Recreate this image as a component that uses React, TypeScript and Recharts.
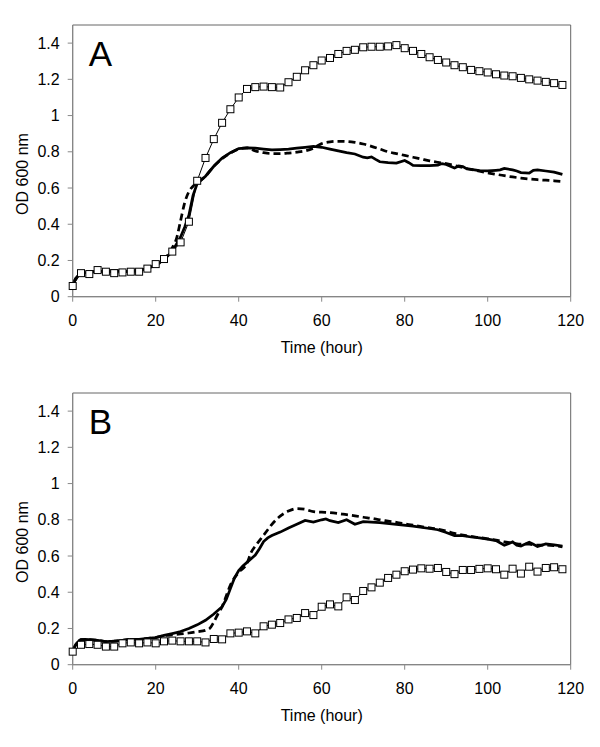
import React from "react";
import {
  LineChart,
  Line,
  XAxis,
  YAxis,
  ReferenceArea,
} from "recharts";

const FONT = "'Liberation Sans', Arial, sans-serif";

// sampling hours of the open-square series (every 2 h)
const SQ_HOURS = [
  0, 2, 4, 6, 8, 10, 12, 14, 16, 18, 20, 22, 24, 26, 28, 30, 32, 34, 36, 38,
  40, 42, 44, 46, 48, 50, 52, 54, 56, 58, 60, 62, 64, 66, 68, 70, 72, 74, 76, 78,
  80, 82, 84, 86, 88, 90, 92, 94, 96, 98, 100, 102, 104, 106, 108, 110, 112, 114, 116, 118,
];

// ---- panel A ----
const A_SQUARES = [
  0.059, 0.13, 0.125, 0.147, 0.138, 0.13, 0.134, 0.138, 0.138, 0.155,
  0.18, 0.208, 0.249, 0.3, 0.414, 0.64, 0.766, 0.87, 0.96, 1.035,
  1.1, 1.147, 1.157, 1.16, 1.157, 1.155, 1.184, 1.214, 1.25, 1.278,
  1.304, 1.318, 1.34, 1.357, 1.363, 1.377, 1.38, 1.38, 1.382, 1.389,
  1.372, 1.357, 1.34, 1.322, 1.307, 1.293, 1.278, 1.267, 1.252, 1.245,
  1.238, 1.228, 1.221, 1.217, 1.208, 1.2, 1.193, 1.186, 1.179, 1.169,
];

const A_SOLID_HOURS = [
  0, 1, 2, 4, 6, 8, 10, 12, 14, 16, 18, 20, 22, 24, 25, 26, 27, 28, 29, 30,
  31, 32, 34, 36, 38, 40, 42, 44, 46, 48, 50, 52, 54, 56, 58, 60, 62, 64, 66, 68,
  70, 71, 72, 73, 74, 76, 78, 80, 81, 82, 84, 86, 88, 89, 90, 91, 92, 93, 94, 95,
  96, 98, 100, 102, 103, 104, 106, 107, 108, 110, 111, 112, 114, 116, 118,
];
const A_SOLID = [
  0.07, 0.11, 0.13, 0.135, 0.14, 0.14, 0.145, 0.14, 0.14, 0.145, 0.155, 0.175, 0.205, 0.25, 0.29, 0.33, 0.385, 0.45, 0.56, 0.625,
  0.645, 0.665, 0.72, 0.765, 0.795, 0.818, 0.822, 0.82, 0.815, 0.81, 0.812, 0.815, 0.82, 0.825, 0.83, 0.825, 0.815, 0.805, 0.795, 0.788,
  0.77, 0.766, 0.772, 0.758, 0.745, 0.74, 0.738, 0.752, 0.74, 0.725, 0.724, 0.724, 0.726, 0.735, 0.73, 0.72, 0.71, 0.722, 0.718, 0.705,
  0.703, 0.696, 0.694, 0.698, 0.7, 0.708, 0.7, 0.694, 0.685, 0.682, 0.698, 0.7, 0.694, 0.688, 0.675,
];

const A_DASH_HOURS = [
  0, 1, 2, 4, 6, 8, 10, 12, 14, 16, 18, 20, 22, 24, 25, 26, 27, 28, 29, 30,
  32, 34, 36, 38, 40, 42, 44, 46, 48, 50, 52, 54, 56, 58, 60, 62, 64, 66, 68, 70,
  72, 74, 76, 78, 80, 82, 84, 86, 88, 90, 92, 94, 96, 98, 100, 102, 104, 106, 108, 110,
  112, 114, 116, 118,
];
const A_DASH = [
  0.07, 0.11, 0.13, 0.135, 0.14, 0.14, 0.145, 0.14, 0.14, 0.145, 0.155, 0.175, 0.205, 0.27, 0.32, 0.42, 0.52, 0.58, 0.61, 0.63,
  0.665, 0.72, 0.762, 0.793, 0.815, 0.822, 0.805, 0.795, 0.79, 0.79, 0.793, 0.798, 0.805, 0.82, 0.845, 0.855, 0.858, 0.857, 0.852, 0.843,
  0.83, 0.815, 0.8, 0.79, 0.78, 0.77, 0.76, 0.75, 0.742, 0.735, 0.724, 0.713, 0.703, 0.693, 0.684, 0.676, 0.668, 0.661, 0.655, 0.65,
  0.646, 0.643, 0.64, 0.636,
];

// ---- panel B ----
const B_SQUARES = [
  0.072, 0.11, 0.114, 0.11, 0.1, 0.1, 0.118, 0.123, 0.118, 0.123,
  0.118, 0.129, 0.133, 0.129, 0.129, 0.129, 0.123, 0.142, 0.14, 0.173,
  0.177, 0.184, 0.173, 0.212, 0.221, 0.23, 0.25, 0.258, 0.285, 0.274,
  0.32, 0.333, 0.322, 0.372, 0.357, 0.407, 0.427, 0.453, 0.479, 0.497,
  0.516, 0.525, 0.532, 0.53, 0.534, 0.512, 0.5, 0.523, 0.523, 0.529,
  0.532, 0.527, 0.497, 0.53, 0.503, 0.541, 0.514, 0.534, 0.538, 0.527,
];

const B_SOLID_HOURS = [
  0, 1, 2, 3, 4, 6, 8, 10, 12, 14, 16, 18, 20, 22, 24, 26, 28, 30, 32, 34,
  36, 37, 38, 39, 40, 41, 42, 43, 44, 45, 46, 47, 48, 50, 52, 54, 56, 58, 60, 61,
  62, 64, 66, 68, 70, 74, 78, 82, 86, 88, 90, 92, 94, 96, 98, 100, 102, 104, 105, 106,
  107, 108, 110, 111, 112, 114, 116, 118,
];
const B_SOLID = [
  0.08, 0.12, 0.138, 0.14, 0.138, 0.135, 0.128, 0.13, 0.135, 0.14, 0.14, 0.145, 0.15, 0.162, 0.172, 0.183, 0.2, 0.22, 0.245, 0.28,
  0.32, 0.36, 0.42, 0.48, 0.52, 0.545, 0.565, 0.585, 0.605, 0.64, 0.68, 0.7, 0.713, 0.732, 0.755, 0.775, 0.796, 0.787, 0.8, 0.805,
  0.795, 0.785, 0.8, 0.775, 0.79, 0.785, 0.775, 0.765, 0.752, 0.745, 0.73, 0.712, 0.712, 0.705, 0.7, 0.693, 0.685, 0.66, 0.668, 0.678,
  0.66, 0.655, 0.676, 0.665, 0.652, 0.667, 0.662, 0.655,
];

const B_DASH_HOURS = [
  0, 1, 2, 4, 6, 8, 10, 12, 14, 16, 18, 20, 22, 24, 26, 28, 30, 32, 33, 34,
  35, 36, 37, 38, 40, 42, 43, 44, 45, 46, 47, 48, 50, 52, 54, 56, 58, 60, 62, 64,
  66, 68, 70, 72, 74, 76, 78, 80, 82, 84, 86, 88, 90, 92, 94, 96, 98, 100, 102, 104,
  106, 108, 110, 112, 114, 116, 118,
];
const B_DASH = [
  0.08, 0.12, 0.138, 0.138, 0.135, 0.128, 0.13, 0.135, 0.14, 0.14, 0.145, 0.15, 0.16, 0.165, 0.17, 0.175, 0.182, 0.19, 0.2, 0.235,
  0.28, 0.32, 0.38, 0.44, 0.51, 0.56, 0.62, 0.655, 0.685, 0.715, 0.745, 0.775, 0.82, 0.848, 0.862, 0.858, 0.845, 0.842, 0.84, 0.835,
  0.828, 0.822, 0.814, 0.808, 0.8, 0.793, 0.786, 0.778, 0.77, 0.762, 0.755, 0.748, 0.738, 0.725, 0.715, 0.708, 0.702, 0.695, 0.688, 0.678,
  0.672, 0.665, 0.665, 0.66, 0.66, 0.657, 0.65,
];

const X_TICKS = [0, 20, 40, 60, 80, 100, 120];
const Y_TICKS = [0, 0.2, 0.4, 0.6, 0.8, 1, 1.2, 1.4];

const toPoints = (hours: number[], od: number[]) =>
  hours.map((t, i) => ({ t, od: od[i] }));

const SquareDot = (props: any) => {
  const { cx, cy, index } = props;
  if (cx == null || cy == null) return <g key={`sq-${index}`} />;
  return (
    <rect
      key={`sq-${index}`}
      x={cx - 3.5}
      y={cy - 3.5}
      width={7}
      height={7}
      fill="#fff"
      stroke="#000"
      strokeWidth={1}
    />
  );
};

const AXIS = "#888";

function Panel({
  letter,
  solid,
  dashed,
  squares,
}: {
  letter: string;
  solid: { t: number; od: number }[];
  dashed: { t: number; od: number }[];
  squares: { t: number; od: number }[];
}) {
  return (
    <LineChart
      width={600}
      height={379}
      margin={{ top: 25, right: 29.3, left: 0, bottom: 22.3 }}
    >
      <ReferenceArea
        x1={0}
        x2={120}
        y1={0}
        y2={1.5}
        fill="none"
        stroke="#666"
        strokeWidth={1}
        label={{
          value: letter,
          position: "insideTopLeft",
          offset: 16,
          fontSize: 35,
          fill: "#000",
          fontFamily: FONT,
        }}
      />
      <XAxis
        type="number"
        dataKey="t"
        domain={[0, 120]}
        ticks={X_TICKS}
        interval={0}
        height={60}
        stroke={AXIS}
        tickSize={5}
        tickMargin={13}
        tick={{ fill: "#000", fontSize: 16, fontFamily: FONT }}
        label={{
          value: "Time (hour)",
          position: "insideBottom",
          offset: 4,
          fill: "#000",
          fontSize: 16,
          fontFamily: FONT,
        }}
      />
      <YAxis
        type="number"
        domain={[0, 1.5]}
        ticks={Y_TICKS}
        interval={0}
        width={72.7}
        stroke={AXIS}
        tickSize={5}
        tickMargin={8}
        tick={{ fill: "#000", fontSize: 16, fontFamily: FONT }}
        label={{
          content: () => (
            <text
              x={22}
              y={174}
              transform="rotate(-90 22 174)"
              textAnchor="middle"
              dominantBaseline="central"
              fill="#000"
              fontSize={16}
              fontFamily={FONT}
            >
              OD 600 nm
            </text>
          ),
        }}
      />
      <Line
        data={solid}
        dataKey="od"
        type="linear"
        stroke="#000"
        strokeWidth={2.75}
        dot={false}
        activeDot={false}
        isAnimationActive={false}
      />
      <Line
        data={dashed}
        dataKey="od"
        type="monotone"
        stroke="#000"
        strokeWidth={2.75}
        strokeDasharray="7 4"
        dot={false}
        activeDot={false}
        isAnimationActive={false}
      />
      <Line
        data={squares}
        dataKey="od"
        type="linear"
        stroke="#000"
        strokeWidth={1}
        dot={SquareDot}
        activeDot={false}
        isAnimationActive={false}
      />
    </LineChart>
  );
}

export default function App() {
  return (
    <div
      style={{
        position: "absolute",
        left: 0,
        top: 0,
        width: 600,
        height: 747,
        background: "#fff",
      }}
    >
      <div style={{ position: "absolute", left: 0, top: 0 }}>
        <Panel
          letter="A"
          solid={toPoints(A_SOLID_HOURS, A_SOLID)}
          dashed={toPoints(A_DASH_HOURS, A_DASH)}
          squares={toPoints(SQ_HOURS, A_SQUARES)}
        />
      </div>
      <div style={{ position: "absolute", left: 0, top: 367.7 }}>
        <Panel
          letter="B"
          solid={toPoints(B_SOLID_HOURS, B_SOLID)}
          dashed={toPoints(B_DASH_HOURS, B_DASH)}
          squares={toPoints(SQ_HOURS, B_SQUARES)}
        />
      </div>
    </div>
  );
}
